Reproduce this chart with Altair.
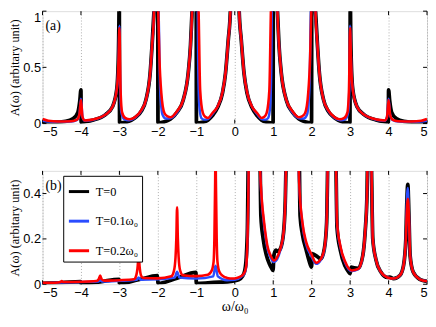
import altair as alt
import pandas as pd

SERIES = ["T=0", "T=0.1ω₀", "T=0.2ω₀"]
COLORS = ["#000000", "#2a4cff", "#ff0000"]
WIDTHS = [3.8, 2.5, 2.6]
XTICKS = [-5, -4, -3, -2, -1, 0, 1, 2, 3, 4, 5]
YTICKS_A = [0, 0.5, 1]
YTICKS_B = [0, 0.2, 0.4]

# ---------------- panel (a) ----------------
A_K_X = [-5.0, -4.7, -4.4, -4.2, -4.08, -4.03, -4.0, -3.995, -3.97, -3.7, -3.36, -3.18, -3.07, -3.03, -3.01, -3.005,
         -2.995, -2.8, -2.6, -2.43, -2.31, -2.2, -2.15, -2.1, -2.003,
         -1.997, -1.83, -1.67, -1.5, -1.34, -1.21, -1.15, -1.11, -1.003,
         -0.997, -0.85, -0.7, -0.58, -0.45, -0.32, -0.24, -0.17, -0.114, -0.08,
         0.08, 0.114, 0.17, 0.24, 0.32, 0.45, 0.58, 0.7, 0.85, 0.997,
         1.003, 1.11, 1.15, 1.21, 1.34, 1.5, 1.67, 1.83, 1.997,
         2.003, 2.1, 2.15, 2.2, 2.31, 2.43, 2.6, 2.8, 2.995,
         3.005, 3.01, 3.03, 3.07, 3.18, 3.36, 3.7, 3.97, 3.995, 4.0, 4.03, 4.08, 4.2, 4.4, 4.7, 5.0]
A_K_Y = [0.012, 0.012, 0.02, 0.045, 0.1, 0.2, 0.3, 0.01, 0.012, 0.03, 0.08, 0.15, 0.3, 0.55, 1.0, 1.3,
         0.004, 0.015, 0.05, 0.11, 0.21, 0.45, 0.7, 1.0, 1.4,
         0.004, 0.015, 0.04, 0.1, 0.21, 0.45, 0.7, 1.0, 1.4,
         0.004, 0.01, 0.03, 0.07, 0.14, 0.27, 0.45, 0.74, 1.0, 1.4,
         1.4, 1.0, 0.74, 0.45, 0.27, 0.14, 0.07, 0.03, 0.01, 0.004,
         1.4, 1.0, 0.7, 0.45, 0.21, 0.1, 0.04, 0.015, 0.004,
         1.4, 1.0, 0.7, 0.45, 0.21, 0.11, 0.05, 0.015, 0.004,
         1.3, 1.0, 0.55, 0.3, 0.15, 0.08, 0.03, 0.012, 0.01, 0.3, 0.2, 0.1, 0.045, 0.02, 0.012, 0.012]

A_B_X = [-5.0, -4.85, -4.6, -4.25, -4.1, -4.04, -4.0, -3.96, -3.9, -3.7, -3.36, -3.18, -3.07, -3.04, -3.02, -3.0,
         -2.985, -2.95, -2.88, -2.75, -2.6, -2.43, -2.31, -2.2, -2.15, -2.1, -2.08,
         -2.01, -1.98, -1.94, -1.88, -1.8, -1.67, -1.5, -1.34, -1.21, -1.15, -1.11, -1.08,
         -0.975, -0.95, -0.92, -0.87, -0.8, -0.7, -0.58, -0.45, -0.325, -0.24, -0.17, -0.114, -0.09,
         0.09, 0.114, 0.17, 0.24, 0.325, 0.45, 0.58, 0.7, 0.8, 0.87, 0.92, 0.95, 0.975,
         1.08, 1.11, 1.15, 1.21, 1.34, 1.5, 1.67, 1.8, 1.88, 1.94, 1.98, 2.01,
         2.08, 2.1, 2.15, 2.2, 2.31, 2.43, 2.6, 2.75, 2.88, 2.95, 2.985, 3.0,
         3.02, 3.04, 3.07, 3.18, 3.36, 3.7, 3.9, 3.96, 4.0, 4.04, 4.1, 4.25, 4.6, 4.85, 5.0]
A_B_Y = [0.025, 0.018, 0.015, 0.018, 0.032, 0.08, 0.22, 0.06, 0.025, 0.032, 0.08, 0.15, 0.3, 0.42, 0.6, 0.87,
         0.4, 0.1, 0.04, 0.03, 0.05, 0.115, 0.21, 0.45, 0.7, 1.0, 1.4,
         1.4, 1.0, 0.3, 0.08, 0.045, 0.048, 0.1, 0.21, 0.45, 0.7, 1.0, 1.4,
         1.4, 0.5, 0.15, 0.05, 0.035, 0.04, 0.085, 0.15, 0.27, 0.45, 0.74, 1.0, 1.4,
         1.4, 1.0, 0.74, 0.45, 0.27, 0.15, 0.085, 0.04, 0.035, 0.05, 0.15, 0.5, 1.4,
         1.4, 1.0, 0.7, 0.45, 0.21, 0.1, 0.048, 0.045, 0.08, 0.3, 1.0, 1.4,
         1.4, 1.0, 0.7, 0.45, 0.21, 0.115, 0.05, 0.03, 0.04, 0.1, 0.4, 0.87,
         0.6, 0.42, 0.3, 0.15, 0.08, 0.032, 0.025, 0.06, 0.22, 0.08, 0.032, 0.018, 0.015, 0.018, 0.025]

A_R_X = [-5.0, -4.85, -4.6, -4.25, -4.1, -4.04, -4.0, -3.96, -3.9, -3.7, -3.36, -3.18, -3.07, -3.04, -3.02, -3.0,
         -2.97, -2.93, -2.85, -2.73, -2.6, -2.43, -2.31, -2.2, -2.15, -2.1, -2.08,
         -2.01, -1.99, -1.96, -1.91, -1.83, -1.75, -1.67, -1.5, -1.34, -1.21, -1.15, -1.11, -1.08,
         -0.97, -0.94, -0.9, -0.83, -0.77, -0.7, -0.58, -0.45, -0.325, -0.24, -0.17, -0.114, -0.09,
         0.09, 0.114, 0.17, 0.24, 0.325, 0.45, 0.58, 0.7, 0.77, 0.83, 0.9, 0.94, 0.97,
         1.08, 1.11, 1.15, 1.21, 1.34, 1.5, 1.67, 1.75, 1.83, 1.91, 1.96, 1.99, 2.01,
         2.08, 2.1, 2.15, 2.2, 2.31, 2.43, 2.6, 2.73, 2.85, 2.93, 2.97, 3.0,
         3.02, 3.04, 3.07, 3.18, 3.36, 3.7, 3.9, 3.96, 4.0, 4.04, 4.1, 4.25, 4.6, 4.85, 5.0]
A_R_Y = [0.04, 0.025, 0.018, 0.02, 0.035, 0.08, 0.21, 0.06, 0.028, 0.035, 0.08, 0.15, 0.3, 0.42, 0.6, 0.85,
         0.3, 0.1, 0.05, 0.038, 0.055, 0.12, 0.21, 0.45, 0.7, 1.0, 1.4,
         1.4, 1.0, 0.59, 0.27, 0.094, 0.065, 0.056, 0.11, 0.21, 0.45, 0.7, 1.0, 1.4,
         1.4, 1.0, 0.3, 0.094, 0.06, 0.05, 0.094, 0.15, 0.27, 0.45, 0.74, 1.0, 1.4,
         1.4, 1.0, 0.74, 0.45, 0.27, 0.15, 0.094, 0.05, 0.06, 0.094, 0.3, 1.0, 1.4,
         1.4, 1.0, 0.7, 0.45, 0.21, 0.11, 0.056, 0.065, 0.094, 0.27, 0.59, 1.0, 1.4,
         1.4, 1.0, 0.7, 0.45, 0.21, 0.12, 0.055, 0.038, 0.05, 0.1, 0.3, 0.85,
         0.6, 0.42, 0.3, 0.15, 0.08, 0.035, 0.028, 0.06, 0.21, 0.08, 0.035, 0.02, 0.018, 0.025, 0.04]

# ---------------- panel (b) ----------------
B_K_X = [-5.0, -4.5, -4.01, -4.0, -3.5, -3.01, -3.0, -2.5, -2.01, -2.0, -1.5, -1.01, -1.0, -0.7, -0.4, -0.1,
         0.1, 0.2, 0.26, 0.3, 0.33, 0.36, 0.65, 0.68, 0.74, 0.82, 0.9, 0.96, 0.995, 1.02, 1.07, 1.12, 1.185, 1.27,
         1.31, 1.35, 1.67, 1.7, 1.76, 1.86, 1.94, 1.995, 2.02, 2.08, 2.16, 2.24, 2.33, 2.39, 2.43,
         2.62, 2.66, 2.745, 2.87, 2.96, 3.0, 3.03, 3.1, 3.21, 3.33, 3.39, 3.44, 3.46,
         3.54, 3.59, 3.67, 3.8, 3.97, 4.0, 4.03, 4.13, 4.3, 4.39, 4.45, 4.47, 4.5, 4.53, 4.56, 4.64, 4.81, 5.0]
B_K_Y = [0.004, 0.007, 0.012, 0.003, 0.011, 0.022, 0.003, 0.02, 0.038, 0.003, 0.027, 0.052, 0.004, 0.006, 0.009, 0.013,
         0.02, 0.035, 0.06, 0.12, 0.25, 0.6, 0.6, 0.3, 0.2, 0.13, 0.09, 0.07, 0.061, 0.13, 0.15, 0.145, 0.156, 0.229,
         0.345, 0.6, 0.6, 0.3, 0.22, 0.15, 0.1, 0.076, 0.134, 0.13, 0.12, 0.112, 0.156, 0.272, 0.6,
         0.6, 0.25, 0.15, 0.08, 0.055, 0.047, 0.076, 0.072, 0.07, 0.127, 0.229, 0.4, 0.6,
         0.6, 0.2, 0.11, 0.054, 0.03, 0.03, 0.032, 0.025, 0.04, 0.083, 0.2, 0.33, 0.44, 0.3, 0.127, 0.054, 0.022, 0.013]

B_B_X = [-5.0, -4.5, -4.0, -3.55, -3.5, -3.45, -3.0, -2.55, -2.5, -2.45, -2.0, -1.56, -1.5, -1.44, -1.0,
         -0.56, -0.5, -0.44, -0.2, 0.0, 0.17, 0.26, 0.3, 0.33, 0.35, 0.37, 0.64, 0.66, 0.7, 0.764, 0.848, 0.932,
         1.017, 1.1, 1.185, 1.27, 1.31, 1.35, 1.65, 1.675, 1.76, 1.86, 1.99, 2.116, 2.24, 2.33, 2.39, 2.43,
         2.62, 2.66, 2.745, 2.87, 3.04, 3.21, 3.33, 3.39, 3.44, 3.46, 3.54, 3.59, 3.67, 3.8, 3.97, 4.13,
         4.3, 4.39, 4.45, 4.47, 4.5, 4.53, 4.56, 4.64, 4.81, 5.0]
B_B_Y = [0.005, 0.008, 0.01, 0.012, 0.018, 0.012, 0.015, 0.02, 0.03, 0.02, 0.022, 0.03, 0.055, 0.03, 0.025,
         0.035, 0.082, 0.035, 0.018, 0.02, 0.033, 0.05, 0.08, 0.2, 0.35, 0.6, 0.6, 0.5, 0.37, 0.26, 0.16, 0.118,
         0.098, 0.11, 0.15, 0.225, 0.34, 0.6, 0.6, 0.45, 0.265, 0.175, 0.125, 0.09, 0.108, 0.15, 0.27, 0.6,
         0.6, 0.265, 0.165, 0.095, 0.058, 0.066, 0.125, 0.229, 0.4, 0.6, 0.6, 0.2, 0.11, 0.054, 0.03, 0.025,
         0.04, 0.083, 0.2, 0.33, 0.425, 0.3, 0.127, 0.054, 0.022, 0.013]

B_R_X = [-5.0, -4.6, -4.53, -4.5, -4.47, -4.0, -3.6, -3.54, -3.5, -3.46, -3.4, -3.0, -2.62, -2.56, -2.53, -2.5,
         -2.47, -2.44, -2.38, -2.0, -1.65, -1.58, -1.54, -1.52, -1.5, -1.48, -1.46, -1.42, -1.35, -1.0,
         -0.7, -0.6, -0.55, -0.53, -0.51, -0.5, -0.49, -0.47, -0.45, -0.4, -0.3, -0.2, -0.05, 0.05, 0.17, 0.26,
         0.3, 0.33, 0.35, 0.37, 0.64, 0.66, 0.7, 0.764, 0.848, 0.932, 1.017, 1.1, 1.185, 1.27, 1.31, 1.35,
         1.65, 1.675, 1.76, 1.86, 1.99, 2.116, 2.24, 2.33, 2.39, 2.43, 2.62, 2.66, 2.745, 2.87, 3.04, 3.21,
         3.33, 3.39, 3.44, 3.46, 3.54, 3.59, 3.67, 3.8, 3.97, 4.13, 4.3, 4.39, 4.45, 4.47, 4.5, 4.53, 4.56,
         4.64, 4.81, 5.0]
B_R_Y = [0.006, 0.008, 0.01, 0.014, 0.01, 0.011, 0.014, 0.022, 0.038, 0.022, 0.016, 0.018, 0.022, 0.04, 0.07, 0.122,
         0.07, 0.04, 0.028, 0.026, 0.035, 0.06, 0.12, 0.2, 0.34, 0.2, 0.12, 0.06, 0.04, 0.036,
         0.042, 0.06, 0.1, 0.2, 0.45, 0.6, 0.45, 0.2, 0.1, 0.055, 0.035, 0.028, 0.025, 0.028, 0.036, 0.054,
         0.083, 0.2, 0.35, 0.6, 0.6, 0.5, 0.38, 0.272, 0.17, 0.127, 0.105, 0.119, 0.156, 0.229, 0.345, 0.6,
         0.6, 0.45, 0.272, 0.185, 0.134, 0.095, 0.112, 0.156, 0.272, 0.6, 0.6, 0.272, 0.17, 0.1, 0.061, 0.068,
         0.127, 0.229, 0.4, 0.6, 0.6, 0.2, 0.11, 0.054, 0.03, 0.025, 0.04, 0.083, 0.2, 0.3, 0.377, 0.3, 0.127,
         0.054, 0.022, 0.013]

W, H1, H2 = 390, 114, 115
SERIF = "Liberation Serif"
SANS = "Liberation Sans"


def frame(xs, ys, name):
    assert len(xs) == len(ys), name
    return pd.DataFrame({"w": xs, "A": ys, "T": name})


def panel(series_xy, ydom, yticks, H, xtitle, tag, with_legend):
    xscale = alt.Scale(domain=[-5, 5], nice=False, zero=False)
    yscale = alt.Scale(domain=ydom, nice=False, zero=False)
    xaxis = alt.Axis(values=XTICKS, grid=True, gridDash=[1, 2], gridColor="#9a9a9a", gridWidth=0.8,
                     ticks=False, domain=False, labelFont=SANS, labelFontSize=13, labelPadding=2,
                     labelFlush=True,
                     labelExpr="datum.value < 0 ? '\u2212' + abs(datum.value) : '' + datum.value",
                     title=xtitle, titleFont=SERIF, titleFontSize=14, titleFontWeight="normal",
                     titlePadding=1)
    yaxis = alt.Axis(values=yticks, grid=False, ticks=False, domain=False, labelFont=SANS,
                     labelFontSize=13, labelPadding=2, labelExpr="'' + datum.value",
                     labelBaseline={"condition": {"test": "datum.value == 1", "value": "top"},
                                    "value": "middle"},
                     title="A(ω) (arbitary unit)", titleFont=SERIF, titleFontSize=12.5,
                     titleFontWeight="normal", titlePadding=1)
    X = lambda: alt.X("w:Q", scale=xscale, axis=xaxis)
    Y = lambda: alt.Y("A:Q", scale=yscale, axis=yaxis)

    layers = []
    for i, (xs, ys) in enumerate(series_xy):
        df = frame(xs, ys, SERIES[i])
        legend = None
        if with_legend:
            legend = alt.Legend(title=None, orient="none", legendX=21, legendY=5,
                                strokeColor="black", fillColor="white", padding=4,
                                symbolType="stroke", symbolSize=420, symbolStrokeWidth=3,
                                labelFont=SERIF, labelFontSize=12.5, labelOffset=5,
                                rowPadding=11, cornerRadius=0)
        layers.append(
            alt.Chart(df).mark_line(clip=True, strokeWidth=WIDTHS[i], interpolate="monotone").encode(
                x=X(), y=Y(),
                color=alt.Color("T:N", scale=alt.Scale(domain=SERIES, range=COLORS), legend=legend),
            )
        )
    xt = pd.DataFrame({"w": XTICKS})
    yt = pd.DataFrame({"A": yticks})
    ticks = [
        alt.Chart(xt).mark_rule(color="black", strokeWidth=1).encode(x=X(), y=alt.value(H), y2=alt.value(H - 4)),
        alt.Chart(xt).mark_rule(color="black", strokeWidth=1).encode(x=X(), y=alt.value(0), y2=alt.value(4)),
        alt.Chart(yt).mark_rule(color="black", strokeWidth=1).encode(y=Y(), x=alt.value(0), x2=alt.value(4)),
        alt.Chart(yt).mark_rule(color="black", strokeWidth=1).encode(y=Y(), x=alt.value(W), x2=alt.value(W - 4)),
    ]
    label = alt.Chart(pd.DataFrame({"t": [tag]})).mark_text(
        font=SERIF, fontSize=14, align="left", baseline="middle", color="black"
    ).encode(text="t:N", x=alt.value(3), y=alt.value(15))
    return alt.layer(*ticks, *layers, label).properties(width=W, height=H)


top = panel([(A_K_X, A_K_Y), (A_B_X, A_B_Y), (A_R_X, A_R_Y)], [0, 1], YTICKS_A, H1, None, "(a)", False)
bottom = panel([(B_K_X, B_K_Y), (B_B_X, B_B_Y), (B_R_X, B_R_Y)], [0, 0.5], YTICKS_B, H2, "ω/ω₀", "(b)", True)

chart = alt.vconcat(top, bottom, spacing=31).resolve_legend(color="independent").properties(
    padding=0
).configure_view(
    stroke="black", strokeWidth=1
).configure_axis(labelColor="black", titleColor="black").configure(background="white")

chart.save("out.html", embed_options={"renderer": "svg", "actions": False})
